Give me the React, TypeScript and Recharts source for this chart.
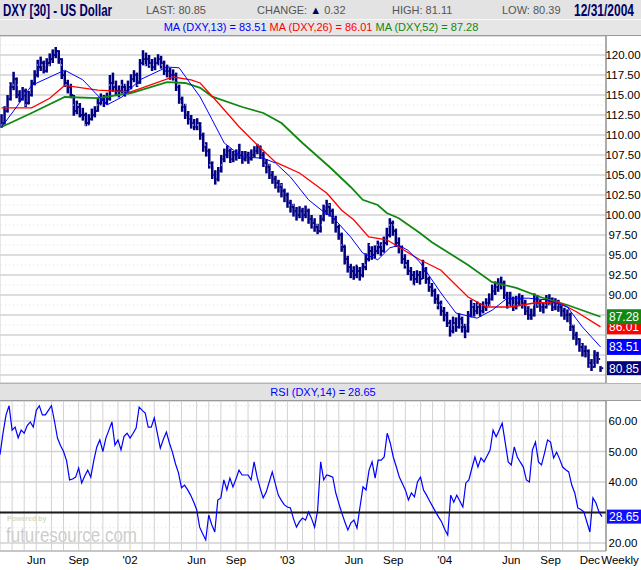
import React from "react";
import { ComposedChart, Bar, Line, XAxis, YAxis, CartesianGrid, ReferenceLine } from "recharts";

// weekly DXY bars, Mar 9 2001 .. Dec 31 2004
const closes = [
  111.5, 113, 114.5, 116, 117, 115, 114.5, 115.5, 114, 115,
  116.5, 117.5, 118.5, 119, 118, 119, 119.5, 120, 120.5, 119.5,
  117.5, 116.5, 116, 115, 113, 113.5, 112.5, 112.5, 111.5, 112,
  112.5, 113, 114, 114.5, 114, 114.5, 116.5, 116, 115.5, 115.5,
  116, 115.5, 116, 117, 117.5, 116.5, 119, 119.5, 119.5, 119,
  118.5, 119, 119.5, 119, 118, 118, 117.5, 117.5, 116, 114.5,
  113.5, 112.5, 112, 111.5, 111, 111.5, 110, 108.5, 108, 106.5,
  105, 104.5, 105.5, 107, 107.5, 108, 107, 107.5, 107.5, 107.5,
  107, 107.5, 107, 107.5, 108, 108.5, 107.5, 106.5, 106, 105,
  104.5, 104, 103.5, 103, 102.5, 101.5, 101, 100.5, 100, 100.5,
  100, 100.5, 99.5, 99, 98.5, 98, 99.5, 100.5, 101, 100.5,
  99.5, 98.5, 97.5, 96, 94.5, 93.5, 93, 92.5, 93, 92.5,
  93.5, 94.5, 95.5, 95, 95.5, 96, 95.5, 96.5, 97.5, 99,
  98, 96.5, 96, 94.5, 94, 93, 92.5, 92, 92.5, 92,
  93, 92, 91, 90.5, 89.5, 89, 88, 87.5, 86.5, 85.5,
  86.5, 86, 87, 86, 85.5, 87.5, 88.5, 88, 88.5, 88,
  88.5, 89, 89.5, 90.5, 91, 91.5, 91.5, 90, 89, 89.5,
  88.5, 89, 89.5, 89, 88, 87.5, 87.5, 89.5, 89, 88.5,
  88.5, 89.5, 89.5, 88.5, 89, 88.5, 88, 87.5, 87.5, 86,
  85, 84.5, 83.5, 83, 83, 81.5, 81, 82.5, 82, 80.85,
];
const highs = [
  112.6, 113.6, 115, 116.6, 117.9, 117.2, 115.6, 116, 115.8, 115.5,
  116.9, 118.1, 119.4, 119.8, 119.3, 119.6, 120.2, 120.7, 121, 120.6,
  119.6, 118, 116.9, 116.4, 115, 114.3, 114, 113.4, 112.8, 112.6,
  113.3, 113.6, 114.7, 115.2, 115, 115.3, 117.5, 117.8, 116.8, 116.2,
  116.9, 116.4, 116.8, 117.6, 118.1, 117.8, 119.5, 120.6, 120.3, 120,
  119.5, 119.7, 120.1, 119.9, 119.3, 118.8, 118.4, 118.2, 117.8, 116.3,
  114.8, 113.9, 113, 112.5, 112, 112.1, 111.6, 110.3, 109.1, 108.3,
  106.7, 105.6, 106, 107.5, 108.3, 108.7, 108.3, 108, 108.2, 108.9,
  108, 108, 107.9, 108.2, 108.6, 108.9, 108.7, 107.9, 107, 106.4,
  105.5, 104.9, 104.4, 104, 103.3, 102.8, 101.9, 101.4, 101, 101.1,
  100.9, 101.2, 100.8, 100, 99.6, 98.9, 100, 101.3, 101.9, 101.5,
  100.8, 99.9, 98.8, 97.8, 96.3, 94.9, 93.9, 93.6, 93.8, 93.5,
  94, 95.2, 96.5, 96.1, 96.2, 96.8, 96.6, 97.3, 98.4, 99.6,
  99.3, 98.3, 97.2, 96.2, 95.1, 94.4, 93.5, 93, 93.1, 93,
  94.4, 93.5, 92.3, 91.5, 90.8, 90.1, 89.3, 88.5, 87.9, 86.9,
  87.3, 87.2, 87.7, 87.3, 86.4, 88, 89.4, 89, 89.2, 89,
  89.2, 89.6, 90.2, 91.3, 91.7, 92.1, 92.3, 91.8, 90.4, 90.4,
  89.8, 89.9, 90.2, 90, 89.4, 88.6, 88.3, 90.2, 90, 89.4,
  89.1, 90, 90.1, 89.7, 89.6, 89.4, 89, 88.4, 88.2, 87.8,
  86.3, 85.4, 84.6, 84, 83.7, 83.2, 82, 83.1, 82.9, 81.11,
];
const lows = [
  110.9, 111.3, 112.8, 114.3, 115.6, 114.6, 114.1, 114.3, 113.5, 113.8,
  114.8, 116.2, 117.2, 118, 117.7, 117.8, 118.6, 119, 119.6, 118.9,
  117, 116, 115.2, 114.6, 112.4, 112.6, 112.2, 111.8, 111.1, 111.2,
  111.8, 112.2, 112.9, 113.7, 113.5, 113.8, 114.3, 115.4, 114.9, 114.7,
  115.2, 114.8, 115.1, 115.7, 116.6, 116, 116.4, 118.7, 118.6, 118.4,
  118, 118.1, 118.7, 118.3, 117.5, 117.2, 116.9, 116.8, 115.5, 113.9,
  112.9, 112, 111.3, 110.8, 110.6, 110.6, 109.4, 107.9, 107.3, 105.8,
  104.5, 103.8, 104.2, 105.3, 106.6, 107.1, 106.5, 106.6, 106.8, 107,
  106.4, 106.7, 106.4, 106.8, 107.2, 107.6, 107, 106, 105.2, 104.5,
  103.9, 103.3, 102.8, 102.2, 101.6, 100.9, 100.3, 99.8, 99.3, 99.6,
  99.2, 99.6, 98.9, 98.3, 97.9, 97.6, 97.8, 99.2, 100, 99.8,
  98.9, 97.8, 96.9, 95.4, 93.8, 92.8, 92.1, 91.9, 92.1, 91.8,
  92.2, 93.1, 94.2, 94.4, 94.6, 95.1, 94.9, 95.3, 96.2, 97.2,
  97.4, 96, 95.2, 93.9, 93.3, 92.5, 91.8, 91.2, 91.5, 91.3,
  92, 91.4, 90.4, 89.8, 88.9, 88.2, 87.4, 86.7, 86, 84.8,
  85.2, 85.4, 85.8, 85.3, 84.6, 85.3, 87.2, 87.3, 87.6, 87.3,
  87.7, 88, 88.6, 89.3, 90, 90.4, 90.7, 89.5, 88.3, 88.6,
  88, 88.2, 88.6, 88.3, 87.5, 86.9, 86.9, 87.3, 88.4, 87.9,
  87.7, 88.3, 88.7, 88, 88.1, 87.9, 87.3, 86.9, 86.6, 85.5,
  84.4, 83.7, 82.9, 82.3, 82.2, 80.9, 80.5, 80.9, 81.4, 80.39,
];
const rsi14 = [
  49, 56, 62, 65, 57, 58, 54.5, 57, 56, 58.5,
  59.7, 58, 63.5, 65, 62, 62, 63.5, 65, 60, 54.4,
  52, 50, 47, 40.7, 41, 41.6, 44.6, 39.7, 42, 43.9,
  41.6, 47, 51.5, 53.8, 50, 54.4, 57, 59.7, 52.1, 53.8,
  50.5, 55, 56, 54.4, 56, 57.7, 64.6, 63.5, 62.6, 58,
  58, 61, 56, 51.1, 54, 56.4, 52.8, 49.8, 46, 43,
  38.1, 39, 37.5, 35.7, 33.5, 31, 25.2, 23, 21, 29.2,
  26, 23.6, 34.1, 34.8, 40.7, 37.4, 41.3, 38.4, 41, 43.9,
  42.3, 42.3, 42.3, 40.7, 46.6, 41.6, 38, 34.8, 36.7, 40,
  43.3, 39.5, 35.7, 34, 32.5, 31.8, 31.5, 28, 25.2, 27,
  28.2, 27.5, 30.2, 28, 25.2, 30.8, 46.6, 40.7, 42.3, 42,
  41.6, 36.4, 33, 29.8, 26.9, 24.3, 26.6, 27.5, 24.9, 31.8,
  38.4, 37.4, 43.9, 46.6, 41.3, 47.2, 47.2, 48.2, 56, 52.8,
  48.2, 45, 41.6, 39.5, 37.4, 34.1, 36.4, 35.1, 40, 41.6,
  37.4, 35.7, 33.8, 32, 30.2, 28.5, 26.9, 24.5, 22.6, 35.7,
  33.4, 35.7, 33.8, 31.8, 39.7, 40.7, 44.6, 48.2, 44.9, 47.9,
  46.6, 48.5, 50.5, 57, 54.8, 57, 59.3, 53, 46.6, 45.6,
  51.5, 48.2, 46.5, 44.9, 40.7, 40, 50.5, 53.1, 46.6, 45.6,
  49.5, 53.8, 53.1, 47.9, 49.8, 47.5, 44.9, 44, 43.3, 39,
  36.4, 31.5, 31, 30.2, 26.9, 23.6, 34.8, 33.1, 30.2, 28.65,
];

// moving averages, read at [week, value]
const ma13Pts: [number, number][] = [
  [0, 111], [5, 113.5], [10, 116.2], [21, 118.1], [27, 116.9], [35, 113.75], [40, 114.75],
  [46, 116.9], [55, 118.5], [59, 118.4], [66, 114.75], [70, 111.9], [74, 109], [80, 107.25],
  [87, 107.1], [91, 106.5], [96, 104.75], [102, 101.9], [107, 100.4], [110, 99.75], [116, 97.25],
  [120, 95.25], [125, 94.4], [129, 95.9], [132, 96.2], [135, 95.6], [139, 94.1], [146, 90.25],
  [151, 87.75], [158, 87.1], [163, 88.1], [168, 89.6], [175, 89.6], [181, 89.4], [188, 88.5],
  [193, 86], [199, 83.51],
];
const ma26Pts: [number, number][] = [
  [0, 113.4], [10, 113.4], [16, 114.6], [21, 116.2], [32, 115.6], [43, 115.4], [57, 117.25],
  [63, 116.9], [66, 116.5], [72, 114], [79, 111], [85, 108.75], [91, 106.6], [99, 105.25],
  [108, 102.75], [110, 101.9], [113, 100.6], [117, 99.4], [122, 97.25], [128, 96.9], [132, 96],
  [139, 94.4], [146, 93.1], [155, 89.75], [161, 88.5], [169, 88.5], [177, 89], [185, 89.1],
  [191, 87.9], [199, 86.01],
];
const ma52Pts: [number, number][] = [
  [0, 111], [10, 112.75], [21, 114.75], [32, 114.6], [43, 115.25], [55, 116.6], [61, 116.5],
  [66, 115.9], [70, 114.8], [80, 113.5], [87, 112.75], [93, 111.5], [100, 109], [109, 106],
  [116, 103.5], [120, 101.9], [125, 101.25], [128, 100.25], [132, 99.6], [139, 97.75],
  [143, 96.6], [155, 93.75], [163, 91.6], [171, 90.9], [179, 89.75], [188, 88.75], [199, 87.28],
];

const lastMa13 = 83.51;
const lastMa26 = 86.01;
const lastMa52 = 87.28;
const lastRsi = 28.65;

const priceTicks = [80, 82.5, 85, 87.5, 90, 92.5, 95, 97.5, 100, 102.5, 105, 107.5, 110, 112.5, 115, 117.5, 120];
const priceMinor = [81.25, 83.75, 86.25, 88.75, 91.25, 93.75, 96.25, 98.75, 101.25, 103.75, 106.25, 108.75, 111.25, 113.75, 116.25, 118.75, 121.25];
const rsiTicks = [20, 30, 40, 50, 60];
const rsiMinor = [25, 35, 45, 55, 65];
const monthLabels: Record<string, string> = {
  "2001-06": "Jun", "2001-09": "Sep", "2002-01": "'02",
  "2002-06": "Jun", "2002-09": "Sep", "2003-01": "'03",
  "2003-06": "Jun", "2003-09": "Sep", "2004-01": "'04",
  "2004-06": "Jun", "2004-09": "Sep", "2004-12": "Dec",
};

const START = Date.UTC(2001, 2, 9);
const weeks = closes.map((_, i) => new Date(START + i * 7 * 86400000).toISOString().slice(0, 10));
const monthStarts = weeks.filter((d, i) => i > 0 && d.slice(0, 7) !== weeks[i - 1].slice(0, 7));

const table: any[] = weeks.map((date, i) => ({
  date,
  range: [lows[i], highs[i]],
  high: highs[i],
  low: lows[i],
  close: closes[i],
  rsi: rsi14[i],
  ma13: null,
  ma26: null,
  ma52: null,
}));
ma13Pts.forEach(([i, v]) => (table[i].ma13 = v));
ma26Pts.forEach(([i, v]) => (table[i].ma26 = v));
ma52Pts.forEach(([i, v]) => (table[i].ma52 = v));

const NAVY = "#000080";
const GRID = "#d2d2d2";
const FONT = "'Liberation Sans', Arial, sans-serif";
const W = 641;
const AXIS_W = 35;

const OhlcBar = (props: any) => {
  const { x, y, width, height, payload } = props;
  const top = Math.min(y, y + height);
  const h = Math.max(Math.abs(height), 1);
  const cx = x + width / 2;
  const cy = top + ((payload.high - payload.close) / (payload.high - payload.low)) * h;
  return (
    <g>
      <rect x={cx - 1.2} y={top} width={2.5} height={h} fill={NAVY} />
      <rect x={cx + 1.2} y={cy - 0.9} width={1.5} height={1.8} fill={NAVY} />
    </g>
  );
};

const AxisTick = ({ y, payload, hide }: any) => {
  if (hide.includes(payload.value)) return <g />;
  return (
    <text x={623} y={y + 4} textAnchor="middle" fontSize={11.5} fill="#000" fontFamily={FONT}>
      {payload.value.toFixed(2)}
    </text>
  );
};

const MonthTick = ({ x, y, payload }: any) => {
  const lbl = monthLabels[String(payload.value).slice(0, 7)];
  if (!lbl) return <g />;
  return (
    <text x={x} y={y + 13} textAnchor="middle" fontSize={11.5} fill="#000" fontFamily={FONT}>
      {lbl}
    </text>
  );
};

const valueBox = (text: string, fill: string, h: number) => (p: any) => {
  const { x, y, width } = p.viewBox;
  return (
    <g>
      <rect x={x + width + 1} y={y - h / 2} width={34} height={h} fill={fill} />
      <text x={x + width + 18} y={y + 4.5} textAnchor="middle" fontSize={12} fill="#fff" fontFamily={FONT}>
        {text}
      </text>
    </g>
  );
};

export default function App() {
  return (
    <div style={{ position: "relative", width: W, height: 570, background: "#fff", overflow: "hidden" }}>
      <style>{"body{margin:0}"}</style>
      <svg width={W} height={570} style={{ position: "absolute", left: 0, top: 0 }} fontFamily={FONT}>
        <rect x={0} y={0} width={W} height={19} fill="#e3e3e3" />
        <rect x={0} y={20} width={W} height={15} fill="#e6e6e6" />
        <line x1={0} x2={W} y1={19.5} y2={19.5} stroke="#f8f8f8" />
        <line x1={0} x2={W} y1={35.5} y2={35.5} stroke="#9a9a9a" />
        <text x={3} y={16} fontSize={16} fontWeight="bold" fill="#000066" textLength={109} lengthAdjust="spacingAndGlyphs">
          DXY [30] - US Dollar
        </text>
        <text x={146} y={14} fontSize={11} fill="#555">LAST: 80.85</text>
        <text x={257} y={14} fontSize={11} fill="#555">
          CHANGE: <tspan fill="#000066">▲</tspan> 0.32
        </text>
        <text x={392} y={14} fontSize={11} fill="#555">HIGH: 81.11</text>
        <text x={502} y={14} fontSize={11} fill="#555">LOW: 80.39</text>
        <text x={574} y={16} fontSize={16} fontWeight="bold" fill="#000066" textLength={60} lengthAdjust="spacingAndGlyphs">
          12/31/2004
        </text>
        <text x={321} y={31} fontSize={11} textAnchor="middle">
          <tspan fill="#0000ff">MA (DXY,13) = {lastMa13.toFixed(2)} </tspan>
          <tspan fill="#ff0000">MA (DXY,26) = {lastMa26.toFixed(2)} </tspan>
          <tspan fill="#118811">MA (DXY,52) = {lastMa52.toFixed(2)}</tspan>
        </text>
        <rect x={0} y={383} width={W} height={17} fill="#e2e2e2" />
        <line x1={0} x2={W} y1={383.5} y2={383.5} stroke="#b4b4b4" />
        <line x1={0} x2={W} y1={400.5} y2={400.5} stroke="#9a9a9a" />
        <text x={323} y={396} fontSize={11} textAnchor="middle" fill="#0000ff">
          RSI (DXY,14) = {lastRsi.toFixed(2)}
        </text>
        <text x={7} y={521} fontSize={7} fontWeight="bold" fill="#d2dcc4">Powered by</text>
        <text x={6} y={542} fontSize={21} fill="#cdcdcd" textLength={131} lengthAdjust="spacingAndGlyphs">
          futuresource.com
        </text>
        <text x={620} y={564} fontSize={11.5} textAnchor="middle" fill="#000">Weekly</text>
      </svg>

      <div style={{ position: "absolute", left: 0, top: 36 }}>
        <ComposedChart width={W} height={347} data={table} margin={{ top: 0, right: 0, bottom: 0, left: 0 }} barCategoryGap={0}>
          <CartesianGrid vertical={false} stroke={GRID} strokeWidth={1.5} />
          <CartesianGrid horizontal={false} stroke={GRID} strokeWidth={1} />
          <XAxis dataKey="date" ticks={monthStarts} interval={0} tick={false} tickLine={false} axisLine={false} height={0} padding={{ left: 0, right: 4 }} />
          <YAxis
            orientation="right"
            width={AXIS_W}
            domain={[79, 122.375]}
            allowDataOverflow
            ticks={priceTicks}
            interval={0}
            tickLine={false}
            axisLine={{ stroke: "#707070" }}
            tick={<AxisTick hide={[80, 82.5, 85, 87.5]} />}
          />
          {priceMinor.map((v) => (
            <ReferenceLine key={v} y={v} stroke="#dcdcdc" strokeDasharray="1 3" />
          ))}
          <Bar dataKey="range" shape={<OhlcBar />} isAnimationActive={false} />
          <Line dataKey="ma52" stroke="#118811" strokeWidth={1.8} dot={false} connectNulls isAnimationActive={false} />
          <Line dataKey="ma26" stroke="#ff0000" strokeWidth={1.3} dot={false} connectNulls isAnimationActive={false} />
          <Line dataKey="ma13" stroke="#0000ff" strokeWidth={1} dot={false} connectNulls isAnimationActive={false} />
          <ReferenceLine y={lastMa26} stroke="none" label={valueBox(lastMa26.toFixed(2), "#ff0000", 15)} />
          <ReferenceLine y={lastMa52} stroke="none" label={valueBox(lastMa52.toFixed(2), "#118811", 15)} />
          <ReferenceLine y={lastMa13} stroke="none" label={valueBox(lastMa13.toFixed(2), "#0000ff", 16)} />
          <ReferenceLine y={closes[closes.length - 1]} stroke="none" label={valueBox(closes[closes.length - 1].toFixed(2), NAVY, 14)} />
        </ComposedChart>
      </div>

      <div style={{ position: "absolute", left: 0, top: 401 }}>
        <ComposedChart width={W} height={169} data={table} margin={{ top: 0, right: 0, bottom: 0, left: 0 }}>
          <CartesianGrid vertical={false} stroke={GRID} strokeWidth={1.5} />
          <CartesianGrid horizontal={false} stroke={GRID} strokeWidth={1} />
          <XAxis
            dataKey="date"
            ticks={monthStarts}
            interval={0}
            height={19}
            tickLine={false}
            tickSize={0}
            tickMargin={0}
            axisLine={{ stroke: "#b0b0b0" }}
            padding={{ left: 0, right: 4 }}
            tick={<MonthTick />}
          />
          <YAxis
            orientation="right"
            width={AXIS_W}
            domain={[17.38, 66.56]}
            allowDataOverflow
            ticks={rsiTicks}
            interval={0}
            tickLine={false}
            axisLine={{ stroke: "#707070" }}
            tick={<AxisTick hide={[30]} />}
          />
          {rsiMinor.map((v) => (
            <ReferenceLine key={v} y={v} stroke="#dcdcdc" strokeDasharray="1 3" />
          ))}
          <ReferenceLine y={30} stroke="#1a1a1a" strokeWidth={2} />
          <Line dataKey="rsi" stroke="#0000ff" strokeWidth={1.2} dot={false} isAnimationActive={false} />
          <ReferenceLine y={lastRsi} stroke="none" label={valueBox(lastRsi.toFixed(2), "#0f0fff", 14)} />
        </ComposedChart>
      </div>
    </div>
  );
}
